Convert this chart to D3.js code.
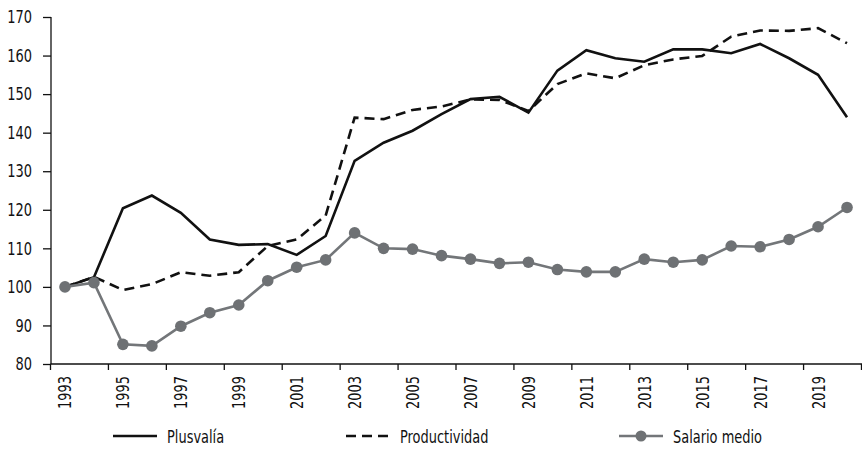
<!DOCTYPE html>
<html>
<head>
<meta charset="utf-8">
<script src="https://cdn.jsdelivr.net/npm/d3@7"></script>
<style>
  html, body { margin: 0; padding: 0; background: #fff; }
  svg { display: block; }
  text { font-family: "Liberation Sans Narrow", "DejaVu Sans Condensed", "Roboto Condensed", sans-serif; fill: #111; }
</style>
</head>
<body>
<svg id="chart" width="862" height="468"></svg>
<script>
const years = d3.range(1993, 2021);
const plusvalia = [100, 102.5, 120.4, 123.7, 119.2, 112.3, 110.9, 111.1, 108.3, 113.2,
  132.7, 137.4, 140.5, 144.8, 148.7, 149.3, 145.2, 156.1, 161.4, 159.3,
  158.4, 161.6, 161.6, 160.6, 163.0, 159.3, 155.0, 144.0];
const productividad = [100, 102.6, 99.2, 100.7, 103.8, 102.9, 103.8, 110.6, 112.3, 118.5,
  143.9, 143.5, 145.9, 146.8, 148.6, 148.5, 145.6, 152.6, 155.4, 154.1,
  157.5, 159.0, 159.9, 164.9, 166.5, 166.4, 167.1, 163.2];
const salario = [100, 101.1, 85.1, 84.7, 89.8, 93.3, 95.3, 101.6, 105.1, 107.0,
  114.0, 110.0, 109.8, 108.1, 107.2, 106.1, 106.4, 104.5, 103.9, 103.9,
  107.2, 106.4, 107.0, 110.6, 110.4, 112.3, 115.6, 120.6];
const yTicks = [80, 90, 100, 110, 120, 130, 140, 150, 160, 170];
const xLabelYears = years.filter(y => (y - 1993) % 2 === 0);
const seriesNames = ["Plusvalía", "Productividad", "Salario medio"];

(function () {
const svg = d3.select("#chart");
const mLeft = 51, mRight = 861.5, mTop = 17, mBottom = 364;
const squeeze = 0.8;
function narrow(sel) {
  sel.each(function () {
    const w = this.getComputedTextLength();
    d3.select(this).attr("textLength", (w * squeeze).toFixed(2)).attr("lengthAdjust", "spacingAndGlyphs");
  });
}

const x = d3.scaleBand().domain(years).range([mLeft - 0.5, mRight]).paddingInner(0).paddingOuter(0);
const xc = d => x(d) + x.bandwidth() / 2;
const y = d3.scaleLinear().domain([80, 170]).range([mBottom, mTop]);

// Y axis
const yAxis = d3.axisLeft(y).tickValues(yTicks).tickSize(8).tickPadding(11).tickFormat(d3.format("d"));
const gy = svg.append("g").attr("transform", `translate(${mLeft},0)`).call(yAxis);
gy.attr("font-family", null).attr("font-size", null);
gy.select(".domain").attr("stroke", "#111").attr("stroke-width", 1.3).attr("d", `M0,${mTop}V${mBottom}`);
gy.selectAll(".tick line").attr("stroke", "#111").attr("stroke-width", 1.3);
gy.selectAll(".tick text").attr("font-size", 18).attr("fill", "#111").call(narrow);

// X axis: boundary ticks every 2 years
const boundaries = xLabelYears.map(d => x(d)).concat([x(2020) + x.bandwidth()]);
const gx = svg.append("g");
gx.append("line").attr("x1", mLeft - 0.5).attr("x2", 862).attr("y1", mBottom).attr("y2", mBottom)
  .attr("stroke", "#111").attr("stroke-width", 1.3);
gx.selectAll("line.tk").data(boundaries).join("line").attr("class", "tk")
  .attr("x1", d => d).attr("x2", d => d).attr("y1", mBottom).attr("y2", mBottom + 6)
  .attr("stroke", "#111").attr("stroke-width", 1.3);
gx.selectAll("text").data(xLabelYears).join("text")
  .attr("transform", d => `translate(${xc(d) + 6.5},${mBottom + 12}) rotate(-90)`)
  .attr("text-anchor", "end").attr("font-size", 18).text(d => d).call(narrow);

// Lines
const lineGen = arr => d3.line().x((d, i) => xc(years[i])).y(d => y(d))(arr);
svg.append("path").attr("d", lineGen(productividad)).attr("fill", "none")
  .attr("stroke", "#111").attr("stroke-width", 2.6).attr("stroke-dasharray", "10,6");
svg.append("path").attr("d", lineGen(plusvalia)).attr("fill", "none")
  .attr("stroke", "#111").attr("stroke-width", 2.6);
svg.append("path").attr("d", lineGen(salario)).attr("fill", "none")
  .attr("stroke", "#737679").attr("stroke-width", 2.6);
svg.selectAll("circle.pt").data(salario).join("circle").attr("class", "pt")
  .attr("cx", (d, i) => xc(years[i])).attr("cy", d => y(d)).attr("r", 5.8)
  .attr("fill", "#6e7174");

// Legend
const ly = 436;
const lg = svg.append("g");
const legendItems = [
  { name: seriesNames[0], x0: 113, dash: null, color: "#111", marker: false },
  { name: seriesNames[1], x0: 346, dash: "10,6", color: "#111", marker: false },
  { name: seriesNames[2], x0: 619, dash: null, color: "#737679", marker: true }
];
legendItems.forEach(it => {
  lg.append("line").attr("x1", it.x0).attr("x2", it.x0 + 44).attr("y1", ly).attr("y2", ly)
    .attr("stroke", it.color).attr("stroke-width", 2.4).attr("stroke-dasharray", it.dash);
  if (it.marker) lg.append("circle").attr("cx", it.x0 + 22).attr("cy", ly).attr("r", 5.5).attr("fill", "#6e7174");
  lg.append("text").attr("x", it.x0 + 54).attr("y", ly + 6.5).attr("font-size", 18).text(it.name).call(narrow);
});
})();
</script>
</body>
</html>
